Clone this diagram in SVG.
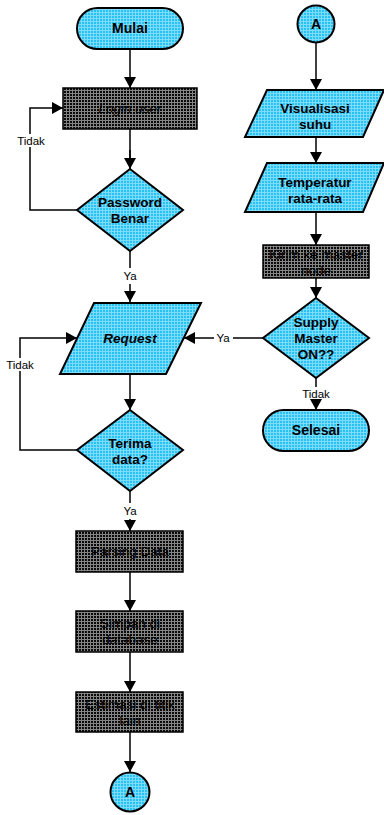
<svg xmlns="http://www.w3.org/2000/svg" width="384" height="815" viewBox="0 0 384 815">
<defs>
<pattern id="blue" width="3" height="3" patternUnits="userSpaceOnUse">
<rect width="3" height="3" fill="#26c2f4"/>
<path d="M0 0.5H3M0.5 0V3" stroke="#c8f0ff" stroke-width="1" opacity="0.55"/>
</pattern>
<pattern id="dark" width="3" height="3" patternUnits="userSpaceOnUse">
<rect width="3" height="3" fill="#0a0a0a"/>
<path d="M0 0.5H3M0.5 0V3" stroke="#858585" stroke-width="1"/>
</pattern>
<marker id="ah" markerWidth="12" markerHeight="12" refX="11" refY="6" orient="auto" markerUnits="userSpaceOnUse">
<path d="M0 0L11 6L0 12Z" fill="#000"/>
</marker>
</defs>
<style>
.b{fill:url(#blue);stroke:#000;stroke-width:2}
.d{fill:url(#dark);stroke:#000;stroke-width:1.5}
.t{font-family:"Liberation Sans",Arial,sans-serif;font-size:13.5px;font-weight:bold;fill:#000;text-anchor:middle}
.n{font-weight:normal}
.i{font-style:italic}
.l{font-family:"Liberation Sans",Arial,sans-serif;font-size:11.5px;fill:#000;text-anchor:middle}
.c{fill:none;stroke:#000;stroke-width:1.5}
.a{marker-end:url(#ah)}
</style>
<g id="connectors">
<path class="c a" d="M130 49V88"/>
<path class="c" d="M130 129V160"/>
<path class="c a" d="M130 150V169"/>
<path class="c a" d="M77 210H30V108H63"/>
<path class="c" d="M130 248V268"/>
<path class="c a" d="M130 284V302"/>
<path class="c a" d="M130 374V410"/>
<path class="c a" d="M77 450H20V338H77"/>
<path class="c" d="M130 491V503"/>
<path class="c a" d="M130 519V531"/>
<path class="c a" d="M130 572V611"/>
<path class="c a" d="M130 652V692"/>
<path class="c a" d="M130 732V772"/>
<path class="c a" d="M316 42V90"/>
<path class="c a" d="M316 137V163"/>
<path class="c a" d="M316 212V245"/>
<path class="c a" d="M316 278V298"/>
<path class="c" d="M263 338H233"/>
<path class="c a" d="M214 338H184"/>
<path class="c" d="M316 378V387"/>
<path class="c a" d="M316 400V410"/>
<rect x="14" y="134" width="32" height="13" fill="#fff"/>
<text class="l" x="31" y="145">Tidak</text>
<text class="l" x="130" y="280">Ya</text>
<rect x="4" y="358" width="32" height="13" fill="#fff"/>
<text class="l" x="20" y="369">Tidak</text>
<text class="l" x="130" y="515">Ya</text>
<text class="l" x="223" y="342">Ya</text>
<text class="l" x="316" y="398">Tidak</text>
</g>
<g id="mulai">
<rect class="b" x="77" y="8" width="106" height="41" rx="20.5"/>
<text class="t" x="130" y="33" style="font-size:14px">Mulai</text>
</g>
<g id="login">
<rect class="d" x="63" y="88" width="134" height="41"/>
<text class="t i n" x="130" y="113">Login user</text>
</g>
<g id="password">
<polygon class="b" points="130,169 183,210 130,251 77,210"/>
<text class="t" x="130" y="207">Password</text>
<text class="t" x="130" y="223">Benar</text>
</g>
<g id="request">
<polygon class="b" points="94,303 201,303 166,374 60,374"/>
<text class="t i" x="130" y="343">Request</text>
</g>
<g id="terima">
<polygon class="b" points="130,410 183,450 130,491 77,450"/>
<text class="t" x="130" y="448">Terima</text>
<text class="t" x="130" y="464">data?</text>
</g>
<g id="parsing">
<rect class="d" x="76" y="531" width="107" height="41"/>
<text class="t n" x="130" y="556">Parsing Data</text>
</g>
<g id="simpan">
<rect class="d" x="76" y="611" width="107" height="41"/>
<text class="t n" x="130" y="628">Simpan di</text>
<text class="t n" x="130" y="644">database</text>
</g>
<g id="estimasi">
<rect class="d" x="76" y="692" width="107" height="40"/>
<text class="t n" x="130" y="709">Estimasi di titik</text>
<text class="t n" x="130" y="725">lain</text>
</g>
<g id="a-bottom">
<circle class="b" cx="130" cy="792" r="19.5"/>
<text class="t" x="130" y="797" style="font-size:14px">A</text>
</g>
<g id="a-top">
<circle class="b" cx="316" cy="24" r="18.5"/>
<text class="t" x="316" y="29" style="font-size:14px">A</text>
</g>
<g id="visualisasi">
<polygon class="b" points="267,90 384,90 363,137 245,137"/>
<text class="t" x="315" y="113">Visualisasi</text>
<text class="t" x="315" y="129">suhu</text>
</g>
<g id="temperatur">
<polygon class="b" points="267,163 384,163 363,212 245,212"/>
<text class="t" x="315" y="187">Temperatur</text>
<text class="t" x="315" y="203">rata-rata</text>
</g>
<g id="kirim">
<rect class="d" x="263" y="245" width="106" height="33"/>
<text class="t n" x="316" y="259">Kirim ke master</text>
<text class="t n" x="316" y="275">node</text>
</g>
<g id="supply">
<polygon class="b" points="316,298 369,338 316,378 263,338"/>
<text class="t" x="316" y="327">Supply</text>
<text class="t" x="316" y="343">Master</text>
<text class="t" x="316" y="359">ON??</text>
</g>
<g id="selesai">
<rect class="b" x="263" y="410" width="106" height="41" rx="20.5"/>
<text class="t" x="316" y="435" style="font-size:14px">Selesai</text>
</g>
</svg>
